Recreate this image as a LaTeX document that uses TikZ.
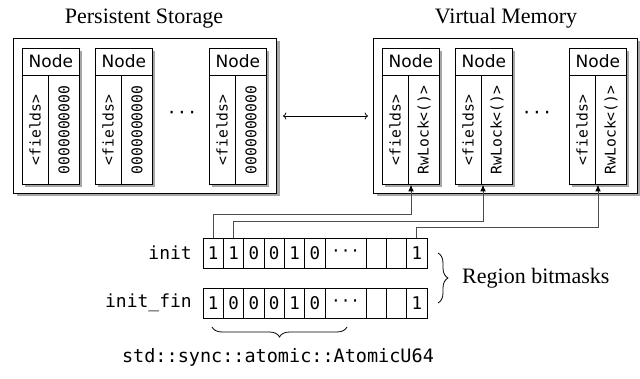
\documentclass[tikz,border=0pt]{standalone}
\usepackage{fontspec}
\setmainfont{Liberation Serif}
\newfontfamily\dvs{DejaVu Sans}
\newfontfamily\dvm{DejaVu Sans Mono}
\usetikzlibrary{shadows,arrows.meta,decorations.pathreplacing,calc}
\newcommand{\MemNode}[3]{%
  \node[membox] (#1) at (#2,48) {};
  \draw[line width=0.8pt] ([yshift=-27pt]#1.north west) -- ([yshift=-27pt]#1.north east);
  \draw[line width=0.8pt] ([xshift=26pt,yshift=-27pt]#1.north west) -- ([xshift=26pt]#1.south west);
  \node[hdr] (#1h) at ([yshift=-13.5pt]#1.north) {Node};
  \node[vtext] (#1f) at ($(#1.south west)!0.5!([xshift=26pt,yshift=-27pt]#1.north west)$) {<fields>};
  \node[vtext] (#1v) at ($([xshift=26pt]#1.south west)!0.5!([yshift=-27pt]#1.north east)$) {#3};
}
\begin{document}
\begin{tikzpicture}[x=1pt,y=-1pt,
  shbox/.style={draw=black, line width=0.8pt, fill=white, drop shadow={shadow xshift=3pt, shadow yshift=-3pt, fill=black!35, opacity=1}},
  outerbox/.style={shbox, line width=1pt, anchor=north west, inner sep=0pt},
  membox/.style={shbox, minimum width=57pt, minimum height=136pt, anchor=north west, inner sep=0pt},
  hdr/.style={font=\dvs\fontsize{17}{17}\selectfont, inner sep=0pt},
  vtext/.style={rotate=90, font=\dvm\fontsize{14.7}{15}\selectfont, inner sep=0pt},
  title/.style={font=\fontsize{22}{24}\selectfont, inner sep=0pt, anchor=base},
  cell/.style={draw, line width=0.8pt, minimum width=20.36pt, minimum height=30pt, inner sep=0pt, font=\dvm\fontsize{17.5}{18}\selectfont},
  wcell/.style={cell, minimum width=40.72pt, font=\dvm\fontsize{16}{16}\selectfont},
  lbl/.style={font=\dvm\fontsize{18}{18}\selectfont, inner sep=0pt, anchor=east},
  conn/.style={draw=black!70, line width=0.8pt, -{Latex[black,length=6.5pt,width=5.5pt]}},
  brc/.style={decorate, decoration={brace, amplitude=10pt}, line width=0.8pt},
  dots/.style={font=\dvm\fontsize{17}{17}\selectfont, inner sep=0pt}
]
\fill[white] (0,0) rectangle (640,379);
\useasboundingbox (0,0) rectangle (640,379);

\node[title] (tps) at (144,24) {Persistent Storage};
\node[title] (tvm) at (506,24) {Virtual Memory};

\node[outerbox, minimum width=263pt, minimum height=155pt] (ps) at (13,38) {};
\node[outerbox, minimum width=264pt, minimum height=155pt] (vm) at (373,38) {};

\MemNode{p1}{22}{0000000000}
\MemNode{p2}{95}{0000000000}
\MemNode{p3}{209}{0000000000}
\MemNode{r1}{382}{RwLock<()>}
\MemNode{r2}{455}{RwLock<()>}
\MemNode{r3}{569}{RwLock<()>}

\node[dots] (pd) at (182,115) {···};
\node[dots] (vd) at (537,115) {···};

\draw[<->, line width=0.8pt, shorten <=6pt, shorten >=5pt] (ps) -- (vm);

% bitmasks
\foreach \i/\v in {1/1,2/1,3/0,4/0,5/1,6/0}
  \node[cell] (a\i) at ({203+(\i-0.5)*20.36},253) {\v};
\node[wcell] (ad) at (345.6,253) {···};
\node[cell] (a7) at (376.1,253) {};
\node[cell] (a8) at (396.5,253) {};
\node[cell] (a9) at (416.8,253) {1};

\foreach \i/\v in {1/1,2/0,3/0,4/0,5/1,6/0}
  \node[cell] (b\i) at ({203+(\i-0.5)*20.36},303) {\v};
\node[wcell] (bd) at (345.6,303) {···};
\node[cell] (b7) at (376.1,303) {};
\node[cell] (b8) at (396.5,303) {};
\node[cell] (b9) at (416.8,303) {1};

\node[lbl] (li) at (192,253) {init};
\node[lbl] (lf) at (192,303) {init\_fin};

% connectors
\draw[conn] (a1.north) -- (a1.north |- 0,214) -| ([xshift=29pt]r1.south west);
\draw[conn] (a2.north) -- (a2.north |- 0,221) -| ([xshift=28pt]r2.south west);
\draw[conn] (a9.north) -- (a9.north |- 0,227) -| ([xshift=29pt]r3.south west);

% braces
\coordinate (rbt) at (438,253);
\coordinate (rbb) at (438,303);
\draw[brc] (rbt) -- (rbb);
\node[anchor=west, inner sep=0pt, font=\fontsize{22}{24}\selectfont] (rb) at (462,278) {Region bitmasks};

\coordinate (bbr) at (347,327);
\coordinate (bbl) at (212,327);
\draw[brc] (bbr) -- (bbl);
\node[font=\dvm\fontsize{18.5}{19}\selectfont, inner sep=0pt] (atm) at (278,357) {std::sync::atomic::AtomicU64};
\end{tikzpicture}
\end{document}
